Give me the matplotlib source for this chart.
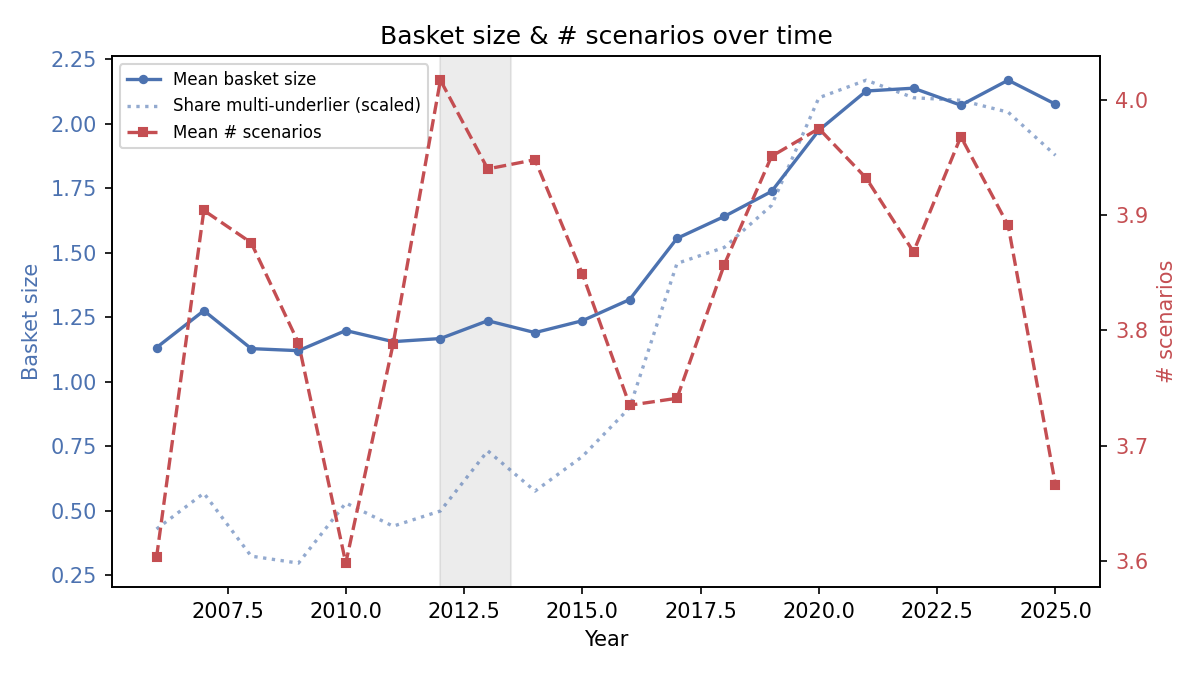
import matplotlib
matplotlib.use('Agg')
import matplotlib.pyplot as plt

years = list(range(2006, 2026))
basket_size = [1.132, 1.275, 1.128, 1.120, 1.198, 1.155, 1.167, 1.236, 1.190, 1.236,
               1.318, 1.555, 1.640, 1.737, 1.974, 2.126, 2.137, 2.071, 2.168, 2.075]
multi_share_scaled = [0.429, 0.568, 0.324, 0.297, 0.530, 0.440, 0.499, 0.732, 0.576, 0.710,
                      0.899, 1.458, 1.520, 1.683, 2.100, 2.168, 2.100, 2.090, 2.044, 1.877]
n_scenarios = [3.603, 3.904, 3.876, 3.789, 3.598, 3.788, 4.017, 3.940, 3.948, 3.849,
               3.735, 3.741, 3.857, 3.951, 3.975, 3.932, 3.868, 3.968, 3.891, 3.666]

blue = '#4C72B0'
red = '#C44E52'

fig, ax = plt.subplots(figsize=(8, 4.5), dpi=150)
fig.subplots_adjust(left=0.093, right=0.917, top=0.917, bottom=0.13)

ax.axvspan(2012, 2013.5, color='gray', alpha=0.15)
l1, = ax.plot(years, basket_size, '-o', color=blue, lw=1.6, ms=3.5, label='Mean basket size')
l2, = ax.plot(years, multi_share_scaled, ':', color=blue, lw=1.6, alpha=0.6,
              label='Share multi-underlier (scaled)')
ax.set_xlabel('Year')
ax.set_ylabel('Basket size', color=blue)
ax.tick_params(axis='y', labelcolor=blue)

ax2 = ax.twinx()
l3, = ax2.plot(years, n_scenarios, '--s', color=red, lw=1.6, ms=4, label='Mean # scenarios')
ax2.set_ylabel('# scenarios', color=red)
ax2.tick_params(axis='y', labelcolor=red)

ax.legend(handles=[l1, l2, l3], loc='upper left', fontsize=8)
ax.set_title('Basket size & # scenarios over time')

fig.savefig('out.png')
